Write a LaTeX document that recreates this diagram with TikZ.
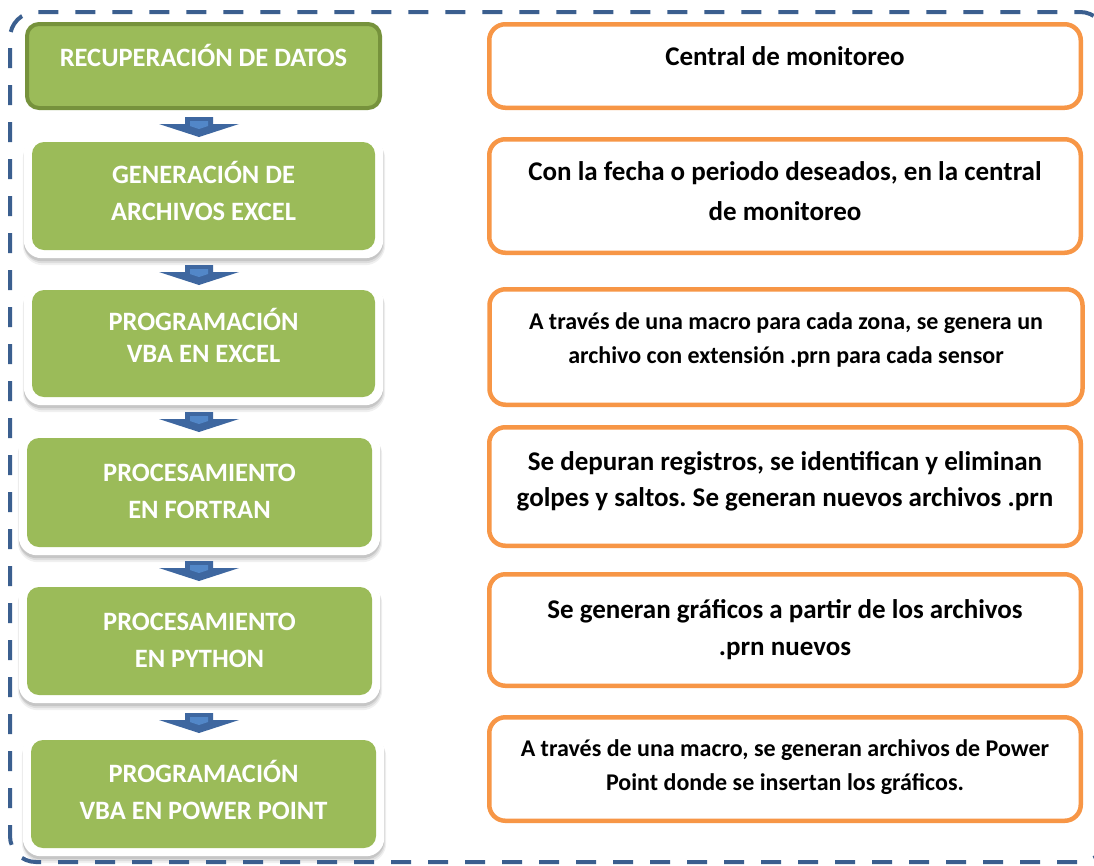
\documentclass[tikz,border=0pt]{standalone}
\usepackage{fontspec}
\setmainfont{Carlito}
\frenchspacing
\usetikzlibrary{calc}
\definecolor{gfill}{HTML}{9BBB59}
\definecolor{gdark}{HTML}{76923C}
\definecolor{orng}{HTML}{F79646}
\definecolor{dblue}{HTML}{3B5F8F}
\definecolor{ablue}{HTML}{3E67A0}
\definecolor{lblue}{HTML}{5287C8}
\pgfdeclarelayer{back}\pgfdeclarelayer{bg}\pgfsetlayers{back,bg,main}
\tikzset{
  greenbox/.style={fill=gfill, rounded corners=12pt, text=white,
    font=\fontsize{26.5}{37}\selectfont\bfseries, align=center, inner sep=0pt, text height=56pt},
  gfirst/.style={greenbox, draw=gdark, line width=4pt},
  obox/.style={draw=orng, line width=4.5pt, rounded corners=16pt, fill=white,
    align=center, inner sep=0pt, text=black},
  otext/.style={font=\fontsize{27}{40}\selectfont\bfseries},
  blockarrow/.pic={
    \fill[ablue] (-14,0) -- (14,0) -- (14,7) -- (40,7) -- (0,20) -- (-40,7) -- (-14,7) -- cycle;
    \fill[lblue] (-9,4) -- (9,4) -- (9,9) -- (0,12) -- (-9,9) -- cycle;
  }
}
\begin{document}
\begin{tikzpicture}[x=1pt,y=-1pt]
\useasboundingbox (0,0) rectangle (1094,865);
\begin{pgfonlayer}{back}
\fill[white] (0,0) rectangle (1094,865);
\end{pgfonlayer}

% outer dashed frame
\draw[dblue, line width=4pt, dash pattern=on 20pt off 17pt, dash phase=-10pt, rounded corners=26pt]
  (10,12) rectangle (1106,862);

% green step boxes
\node[gfirst, minimum width=353pt, minimum height=84pt, text height=19pt, text depth=19pt]
  (g1) at (203.5,66) {RECUPERACIÓN DE DATOS};
\node[greenbox, minimum width=343pt, minimum height=108pt, text depth=8pt] (g2) at (203.5,196)
  {GENERACIÓN DE\\ARCHIVOS EXCEL};
\node[greenbox, font=\fontsize{26.5}{31.5}\selectfont\bfseries, minimum width=343pt, minimum height=107pt, text height=50.5pt, text depth=13.5pt] (g3) at (203.5,343.5)
  {PROGRAMACIÓN\\VBA EN EXCEL};
\node[greenbox, minimum width=345pt, minimum height=109pt, text depth=4pt] (g4) at (199.5,492.5)
  {PROCESAMIENTO\\EN FORTRAN};
\node[greenbox, minimum width=345pt, minimum height=108pt, text depth=4pt] (g5) at (199.5,641)
  {PROCESAMIENTO\\EN PYTHON};
\node[greenbox, minimum width=345pt, minimum height=108pt, text depth=5pt] (g6) at (203.5,794)
  {PROGRAMACIÓN\\VBA EN POWER POINT};

% white frames with soft shadow
\begin{pgfonlayer}{bg}
\foreach \g in {g2,g3,g4,g5,g6}{
  \fill[black, opacity=0.06, rounded corners=20pt] ($(\g.north west)+(-9,-3)$) rectangle ($(\g.south east)+(10,15)$);
  \fill[black, opacity=0.08, rounded corners=19pt] ($(\g.north west)+(-8,-4)$) rectangle ($(\g.south east)+(9,13)$);
  \fill[black, opacity=0.10, rounded corners=18pt] ($(\g.north west)+(-8,-5)$) rectangle ($(\g.south east)+(8,11)$);
  \fill[white, rounded corners=18pt] ($(\g.north west)+(-8,-7)$) rectangle ($(\g.south east)+(8,8)$);
}
\end{pgfonlayer}

% block arrows between steps
\pic at (199,117) {blockarrow};
\pic at (199,265) {blockarrow};
\pic at (199,412) {blockarrow};
\pic at (199,561) {blockarrow};
\pic at (199,713) {blockarrow};

% orange description boxes
\node[obox, otext, minimum width=591.5pt, minimum height=83.5pt, text height=19pt, text depth=20pt]
  (o1) at (785,66) {Central de monitoreo};
\node[obox, otext, minimum width=591.5pt, minimum height=113.5pt, text height=59pt, text depth=9.8pt] (o2) at (785,196)
  {Con la fecha o periodo deseados, en la central\\de monitoreo};
\node[obox, font=\fontsize{24}{34}\selectfont\bfseries, text height=51pt, text depth=18.6pt, minimum width=593pt, minimum height=115.5pt] (o3) at (786,347)
  {A través de una macro para cada zona, se genera un\\archivo con extensión .prn para cada sensor};
\node[obox, font=\fontsize{27}{36}\selectfont\bfseries, text height=55pt, text depth=15.8pt, minimum width=591.5pt, minimum height=118.5pt] (o4) at (785,486.5)
  {Se depuran registros, se identifican y eliminan\\golpes y saltos. Se generan nuevos archivos .prn};
\node[obox, font=\fontsize{27}{37}\selectfont\bfseries, text height=56pt, text depth=4.8pt, minimum width=591.5pt, minimum height=111.5pt] (o5) at (785,630)
  {Se generan gráficos a partir de los archivos\\.prn nuevos};
\node[obox, font=\fontsize{24}{34.5}\selectfont\bfseries, text height=51.5pt, text depth=8.1pt, minimum width=591.5pt, minimum height=103.5pt] (o6) at (785,769)
  {A través de una macro, se generan archivos de Power\\Point donde se insertan los gráficos.};
\end{tikzpicture}
\end{document}
